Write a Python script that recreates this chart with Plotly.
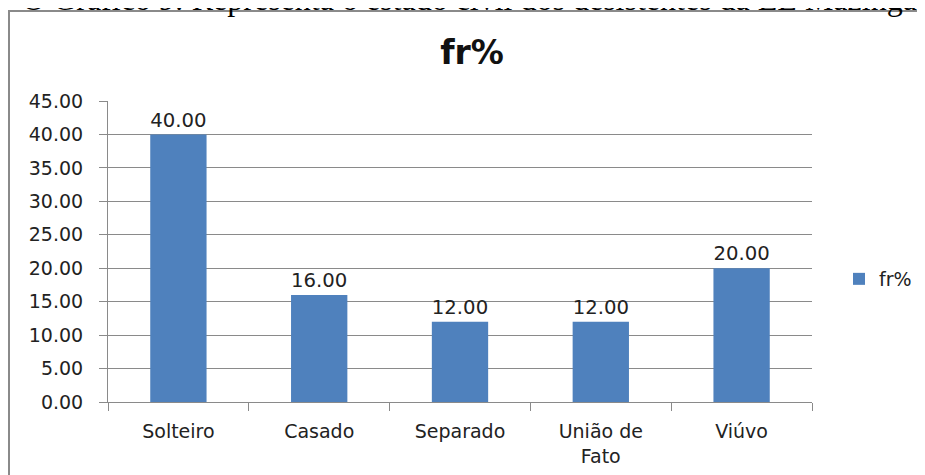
import plotly.graph_objects as go

categories = ["Solteiro", "Casado", "Separado", "União de<br>Fato", "Viúvo"]
values = [40.00, 16.00, 12.00, 12.00, 20.00]
series_name = "fr%"
caption = "O Gráfico 9: Representa o estado civil dos desistentes da EE Mazinga"

font = "DejaVu Sans, Verdana, sans-serif"
W, H = 917, 467  # page body keeps an 8px margin
L, R, T, B = 100, 113, 93, 73
pw, ph = W - L - R, H - T - B


def px_x(x):
    return (x - L) / pw


def px_y(y):
    return (H - B - y) / ph


fig = go.Figure()
fig.add_trace(
    go.Bar(
        x=categories,
        y=values,
        name=series_name,
        marker=dict(color="#4F81BD", line=dict(width=0)),
        text=[f"{v:.2f}" for v in values],
        textposition="outside",
        textfont=dict(size=20, color="#222222", family=font),
        cliponaxis=False,
        showlegend=True,
    )
)

fig.update_layout(
    width=W,
    height=H,
    template="plotly_white",
    paper_bgcolor="white",
    plot_bgcolor="white",
    margin=dict(l=L, r=R, t=T, b=B, autoexpand=False),
    bargap=0.6,
    font=dict(family=font, size=19, color="#222222"),
    title=dict(
        text="<b>fr%</b>",
        x=464 / W,
        xanchor="center",
        y=1 - 44 / H,
        yanchor="middle",
        font=dict(size=33, color="#111111", family=font),
    ),
    legend=dict(
        x=px_x(831),
        y=px_y(271),
        xanchor="left",
        yanchor="middle",
        font=dict(size=19, family=font),
        itemwidth=30,
    ),
    showlegend=True,
)

fig.update_yaxes(
    range=[0, 45],
    dtick=5,
    tickformat=".2f",
    showgrid=True,
    gridcolor="#8A8A8A",
    gridwidth=1,
    showline=True,
    linecolor="#8A8A8A",
    ticks="outside",
    ticklen=8,
    tickcolor="#8A8A8A",
    ticklabelstandoff=12,
    zeroline=False,
    tickfont=dict(size=19, family=font),
)
fig.update_xaxes(
    showline=True,
    linecolor="#8A8A8A",
    ticks="outside",
    tickson="boundaries",
    ticklen=8,
    tickcolor="#8A8A8A",
    ticklabelstandoff=12,
    showgrid=False,
    tickfont=dict(size=19, family=font),
    mirror=False,
)

# frame around the chart
fig.add_shape(
    type="rect",
    xref="paper",
    yref="paper",
    x0=px_x(1),
    x1=px_x(W + 20),
    y0=px_y(H + 20),
    y1=px_y(3),
    line=dict(color="#8A8A8A", width=2),
    fillcolor="rgba(0,0,0,0)",
)

# cropped caption from the document above the chart
fig.add_annotation(
    text=caption,
    xref="paper",
    yref="paper",
    x=px_x(12),
    y=px_y(-9),
    xanchor="left",
    yanchor="middle",
    showarrow=False,
    font=dict(family="Liberation Serif, Times New Roman, serif", size=32, color="#000000"),
)

fig.write_html("out.html")
